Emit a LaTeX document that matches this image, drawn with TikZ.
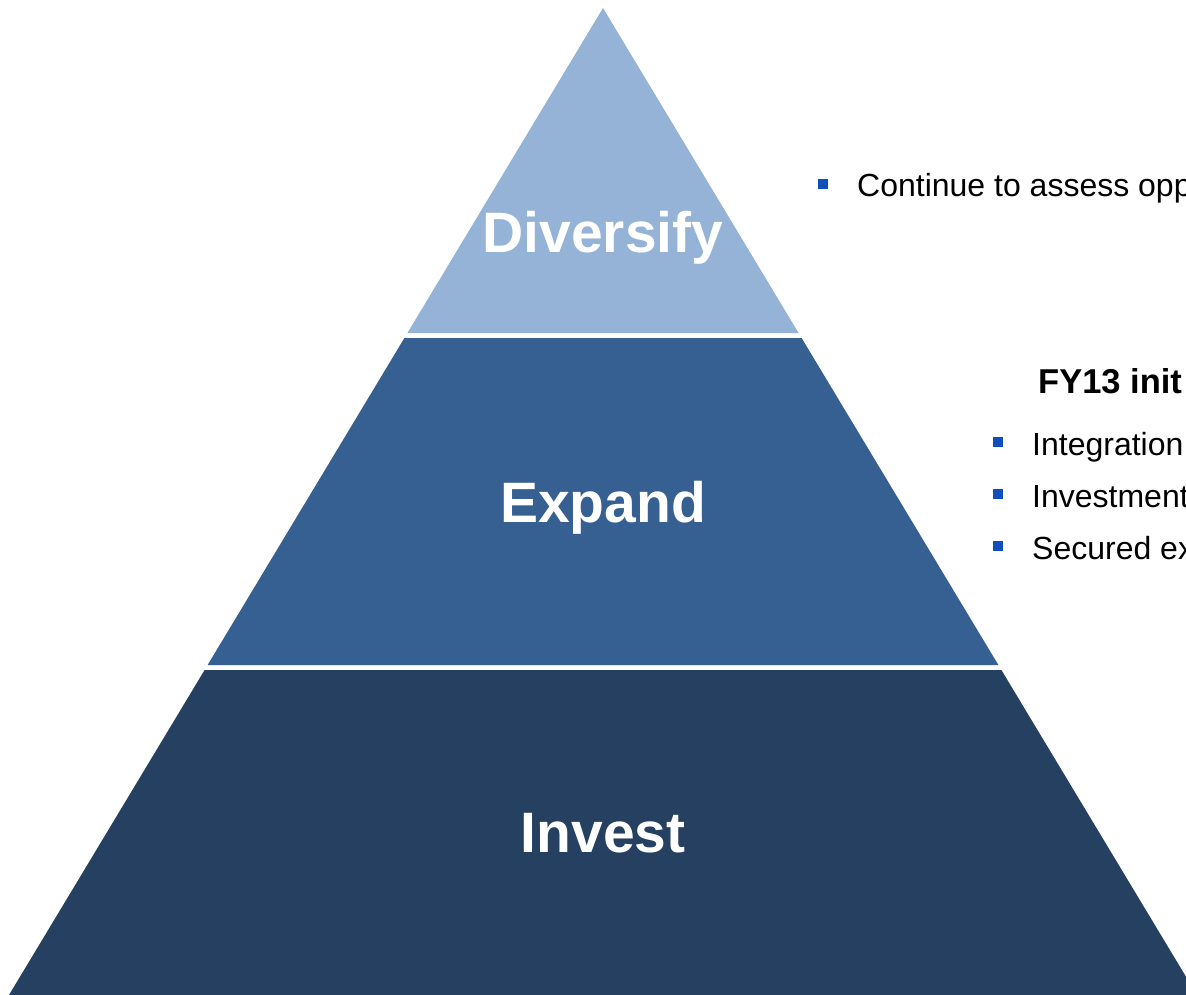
\documentclass[tikz,border=0pt]{standalone}
\usepackage{fontspec}
\setmainfont{Liberation Sans}
\usepackage{tikz}
\usetikzlibrary{positioning}

\definecolor{tiertop}{RGB}{149,179,215}
\definecolor{tiermid}{RGB}{54,96,146}
\definecolor{tierbase}{RGB}{38,64,97}
\definecolor{bulletblue}{RGB}{16,78,187}

\tikzset{
    tierlabel/.style={text=white, font=\bfseries\fontsize{57}{57}\selectfont, anchor=base, inner sep=0pt},
    itemtext/.style={font=\fontsize{32}{32}\selectfont, anchor=base west, inner sep=0pt},
    headtext/.style={font=\bfseries\fontsize{34.5}{34.5}\selectfont, anchor=base west, inner sep=0pt},
    bulletbox/.style={fill=bulletblue, minimum size=10pt, inner sep=0pt}
}

\begin{document}
\begin{tikzpicture}[x=1pt, y=-1pt]
    \useasboundingbox (0, 0) rectangle (1186, 995);
    \clip (0, 0) rectangle (1186, 995);

    % pyramid tiers
    \fill[tiertop] (603, 8) -- (798.6, 333) -- (407.4, 333) -- cycle;
    \fill[tiermid] (404.4, 338) -- (801.6, 338) -- (998.4, 665) -- (207.6, 665) -- cycle;
    \fill[tierbase] (204.6, 670) -- (1001.4, 670) -- (1197, 995) -- (9, 995) -- cycle;

    \node[tierlabel] (diversify) at (603, 252) {Diversify};
    \node[tierlabel] (expand) at (603, 522) {Expand};
    \node[tierlabel] (invest) at (603, 852) {Invest};

    % right hand notes
    \node[bulletbox] (b0) at (823, 184) {};
    \node[itemtext] (assess) at (857, 197) {Continue to assess opp};

    \node[headtext] (fyhead) at (1038, 393) {FY13 init};
    \node[bulletbox] (b1) at (998, 442) {};
    \node[itemtext] (integ) at (1032, 455) {Integration};
    \node[bulletbox] (b2) at (998, 494) {};
    \node[itemtext] (invst) at (1032, 507) {Investment};
    \node[bulletbox] (b3) at (998, 546) {};
    \node[itemtext] (secured) at (1032, 559) {Secured ex};
\end{tikzpicture}
\end{document}
